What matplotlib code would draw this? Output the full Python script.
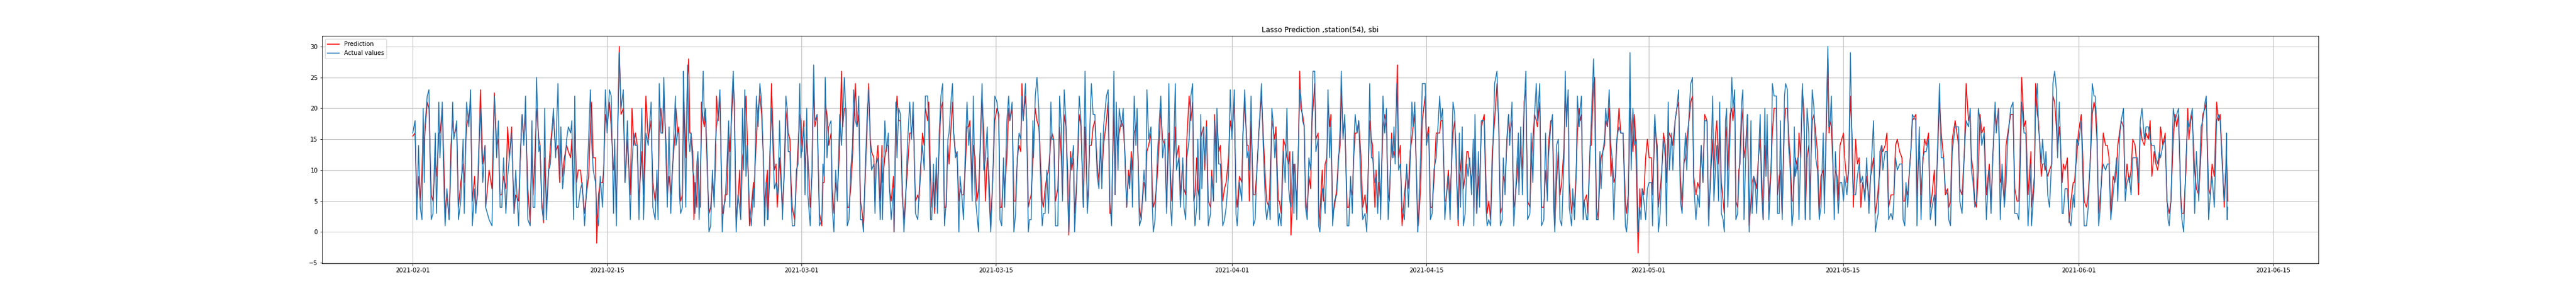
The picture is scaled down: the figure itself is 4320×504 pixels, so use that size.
import numpy as np
import matplotlib
matplotlib.use("Agg")
import matplotlib.pyplot as plt
import matplotlib.dates as mdates

hours = [
    0, 4, 7, 10, 13, 16, 18, 20, 21, 25,
    28, 32, 35, 39, 41, 42, 45, 47, 51, 54,
    56, 59, 63, 66, 69, 71, 73, 76, 79, 83,
    87, 89, 93, 97, 100, 103, 107, 109, 112, 114,
    117, 121, 125, 126, 132, 137, 141, 145, 148, 151,
    154, 157, 161, 164, 167, 171, 175, 178, 183, 186,
    189, 192, 195, 199, 203, 206, 208, 211, 214, 218,
    220, 223, 226, 228, 231, 235, 238, 243, 247, 251,
    254, 256, 259, 262, 266, 269, 273, 275, 278, 280,
    283, 286, 290, 293, 297, 300, 304, 307, 309, 312,
    316, 318, 321, 324, 328, 330, 333, 336, 340, 343,
    347, 349, 352, 354, 357, 360, 364, 367, 371, 376,
    379, 382, 385, 388, 391, 396, 399, 403, 407, 412,
    415, 419, 422, 424, 426, 429, 432, 434, 438, 440,
    443, 446, 451,
    454, 455, 458, 460, 461, 463, 466, 468, 469, 472,
    475, 477, 479, 481, 484, 486, 488, 491, 493, 495,
    497, 499, 502, 504, 506, 509, 512, 515, 518, 521,
    523, 525, 528, 531, 535, 537, 540, 543, 546, 548,
    551, 554, 556, 559, 562, 565, 567, 570, 572, 574,
    576, 578, 582, 585, 589, 590, 594, 597, 600, 603,
    606, 608, 611, 613, 614, 617, 620, 622, 625, 628,
    630, 632, 634, 639, 642, 645, 647, 649, 652, 654,
    656, 660, 663, 666, 669, 671, 673, 676, 678, 681,
    683, 687, 690, 693, 695, 699, 700, 703, 707, 709,
    711, 713, 716, 719, 723, 725, 728, 731, 734, 738,
    741, 743, 746, 749, 751, 754, 757, 760, 762, 765,
    768, 771, 774, 777, 779, 781, 785, 788, 791, 793,
    797, 799, 801, 804, 808, 811, 812, 816, 819, 822,
    824, 827, 831, 832, 835, 837, 840, 843, 846, 849,
    852, 855, 859, 862, 865, 869, 873, 875, 878, 881,
    884, 886, 890, 892, 895, 897,
    900, 902, 905, 907, 910, 913, 916, 919, 922, 925,
    927, 931, 933, 935, 938, 941, 944, 946, 949, 952,
    955, 958, 961, 963, 967, 969, 972, 975, 978, 980,
    984, 987, 990, 993, 996, 999, 1003, 1006, 1010, 1013,
    1015, 1018, 1021, 1023, 1027, 1030, 1032, 1036, 1039, 1042,
    1045, 1048, 1051, 1053, 1055, 1059, 1061, 1064, 1066, 1069,
    1072, 1073, 1076, 1079, 1082, 1084, 1088, 1090, 1093, 1096,
    1099, 1103, 1105, 1108, 1111, 1115, 1118, 1121, 1123, 1126,
    1129, 1132, 1134, 1137, 1139, 1142, 1144, 1147, 1150, 1152,
    1155, 1159, 1162, 1166, 1168, 1170, 1173, 1176, 1179, 1183,
    1186, 1189, 1191, 1194, 1199, 1202, 1205, 1208, 1212, 1214,
    1216, 1219, 1221, 1225, 1228, 1231, 1234, 1237, 1239, 1242,
    1244, 1247, 1250, 1252, 1256, 1259, 1262, 1264, 1267, 1269,
    1272, 1276, 1278, 1280, 1283, 1287, 1291, 1293, 1296, 1300,
    1303, 1307, 1310, 1312, 1318, 1320, 1324, 1327, 1331, 1333,
    1336, 1338, 1342, 1345, 1348,
    1350, 1352, 1355, 1357, 1360, 1362, 1364, 1367, 1369, 1372,
    1375, 1379, 1381, 1384, 1386, 1389, 1390, 1393, 1396, 1400,
    1403, 1406, 1410, 1413, 1416, 1420, 1423, 1425, 1429, 1433,
    1435, 1438, 1442, 1444, 1446, 1449, 1453, 1456, 1459, 1463,
    1467, 1470, 1474, 1476, 1480, 1482, 1485, 1487, 1490, 1492,
    1496, 1498, 1501, 1505, 1508, 1511, 1514, 1516, 1518, 1521,
    1523, 1525, 1528, 1531, 1533, 1535, 1538, 1541, 1543, 1546,
    1549, 1552, 1554, 1556, 1559, 1561, 1565, 1566, 1568, 1572,
    1574, 1577, 1580, 1582, 1585, 1587, 1590, 1593, 1597, 1600,
    1603, 1605, 1608, 1611, 1615, 1618, 1621, 1624, 1627, 1629,
    1632, 1635, 1639, 1642, 1646, 1649, 1651, 1654, 1657, 1659,
    1663, 1665, 1668, 1670, 1673, 1677, 1680, 1683, 1686, 1688,
    1692, 1694, 1696, 1698, 1701, 1702, 1704, 1707, 1710, 1714,
    1718, 1721, 1724, 1727, 1729, 1732, 1737, 1738, 1742, 1745,
    1750, 1752, 1756, 1759, 1762, 1765, 1769, 1775, 1777, 1780,
    1784, 1786, 1790, 1793, 1796,
    1798, 1801, 1803, 1807, 1809, 1811, 1814, 1816, 1819, 1822,
    1824, 1827, 1830, 1833, 1834, 1836, 1839, 1842, 1844, 1847,
    1852, 1855, 1857, 1860, 1863, 1866, 1870, 1874, 1877, 1880,
    1883, 1885, 1888, 1891, 1894, 1896, 1900, 1903, 1905, 1908,
    1911, 1912, 1915, 1918, 1921, 1924, 1927, 1931, 1933, 1936,
    1939, 1942, 1944, 1948, 1951, 1955, 1958, 1961, 1963, 1967,
    1970, 1972, 1974, 1977, 1980, 1983, 1986, 1990, 1992, 1994,
    1997, 1999, 2003, 2005, 2008, 2011, 2013, 2016, 2018, 2020,
    2023, 2025, 2029, 2031, 2035, 2037, 2041, 2043, 2046, 2049,
    2052, 2054, 2057, 2060, 2062, 2065, 2068, 2071, 2073, 2076,
    2079, 2081, 2085, 2088, 2092, 2096, 2098, 2101, 2104, 2106,
    2109, 2112, 2115, 2118, 2121, 2123, 2125, 2128, 2131, 2134,
    2137, 2141, 2143, 2146, 2147, 2151, 2153, 2156, 2159, 2162,
    2165, 2167, 2170, 2172, 2176, 2178, 2182, 2185, 2188, 2191,
    2194, 2197, 2200, 2202, 2206, 2209, 2212, 2214, 2218, 2221,
    2224, 2227, 2230, 2233, 2237, 2240, 2244,
    2247, 2249, 2252, 2254, 2257, 2259, 2262, 2265, 2267, 2269,
    2271, 2273, 2277, 2280, 2282, 2285, 2287, 2290, 2292, 2294,
    2297, 2299, 2301, 2304, 2307, 2310, 2313, 2315, 2318, 2321,
    2323, 2326, 2329, 2331, 2334, 2337, 2339, 2341, 2344, 2348,
    2350, 2353, 2357, 2359, 2362, 2364, 2367, 2371, 2373, 2376,
    2378, 2381, 2384, 2386, 2388, 2390, 2394, 2396, 2399, 2402,
    2405, 2407, 2410, 2413, 2415, 2419, 2422, 2425, 2428, 2431,
    2434, 2438, 2440, 2443, 2446, 2448, 2450, 2452, 2457, 2459,
    2462, 2464, 2467, 2470, 2473, 2475, 2479, 2482, 2485, 2488,
    2490, 2494, 2497, 2500, 2503, 2506, 2510, 2513, 2517, 2520,
    2525, 2528, 2531, 2533, 2536, 2539, 2541, 2545, 2548, 2551,
    2555, 2558, 2560, 2563, 2566, 2570, 2574, 2576, 2579, 2581,
    2584, 2587, 2590, 2592, 2598, 2600, 2602, 2604, 2607, 2610,
    2613, 2616, 2620, 2623, 2626, 2630, 2632, 2635, 2639, 2642,
    2646, 2649, 2653, 2655, 2658, 2661, 2666, 2672, 2674, 2678,
    2682, 2685, 2689, 2692,
    2694, 2697, 2700, 2703, 2706, 2709, 2712, 2716, 2720, 2723,
    2725, 2728, 2731, 2735, 2737, 2741, 2744, 2747, 2751, 2754,
    2757, 2762, 2766, 2769, 2773, 2776, 2778, 2781, 2785, 2788,
    2792, 2797, 2798, 2803, 2805, 2808, 2810, 2815, 2817, 2821,
    2823, 2826, 2829, 2833, 2835, 2838, 2841, 2843, 2846, 2848,
    2851, 2853, 2856, 2860, 2863, 2866, 2870, 2872, 2876, 2879,
    2884, 2887, 2889, 2893, 2896, 2900, 2903, 2906, 2908, 2911,
    2914, 2917, 2919, 2922, 2926, 2929, 2932, 2935, 2939, 2942,
    2945, 2947, 2950, 2953, 2957, 2960, 2963, 2967, 2970, 2973,
    2977, 2981, 2983, 2986, 2989, 2993, 2996, 3000, 3003, 3006,
    3010, 3013, 3016, 3019, 3021, 3025, 3029, 3032, 3034, 3036,
    3039, 3043, 3046, 3049, 3052, 3056, 3058, 3061, 3065, 3068,
    3070, 3074, 3076, 3080, 3083, 3087, 3091, 3094, 3098, 3100,
    3104, 3107, 3110, 3114, 3118, 3121, 3124, 3128, 3131, 3134,
    3135, 3136, 3137,
]

# Actual values (available bikes, sbi)
actual = [
    16, 18, 2, 14, 4, 2, 20, 8, 17, 22,
    23, 2, 3, 16, 3, 7, 21, 12, 21, 7,
    1, 7, 2, 11, 21, 15, 16, 18, 2, 5,
    15, 3, 21, 17, 23, 1, 7, 3, 7, 13,
    20, 8, 14, 4, 2, 1, 22, 12, 18, 4,
    4, 12, 3, 9, 12, 16, 3, 10, 1, 13,
    19, 14, 22, 2, 1, 18, 4, 4, 25, 13,
    14, 4, 2, 20, 2, 10, 11, 20, 12, 24,
    9, 17, 7, 10, 15, 17, 16, 18, 2, 22,
    4, 4, 7, 8, 1, 6, 15, 23, 15, 10,
    8, 3, 1, 9, 4, 10, 23, 16, 23, 22,
    3, 15, 1, 15, 29, 20, 23, 8, 18, 2,
    11, 16, 14, 14, 2, 20, 2, 16, 14, 21,
    4, 2, 10, 2, 24, 16, 16, 25, 11, 4,
    17, 3, 15,
    22, 14, 16, 16, 6, 3, 4, 26, 20, 4,
    27, 15, 13, 16, 10, 9, 3, 11, 13, 2,
    8, 16, 26, 18, 20, 12, 0, 1, 10, 4,
    14, 17, 19, 23, 0, 4, 5, 11, 18, 4,
    20, 26, 19, 0, 6, 4, 2, 20, 10, 23,
    9, 14, 4, 1, 7, 4, 22, 17, 24, 21,
    12, 1, 8, 2, 3, 12, 20, 15, 7, 8,
    6, 8, 18, 2, 10, 22, 20, 13, 13, 6,
    1, 1, 10, 11, 24, 12, 14, 17, 6, 20,
    6, 1, 10, 27, 18, 19, 15, 1, 2, 11,
    9, 25, 12, 17, 18, 4, 0, 10, 5, 19,
    14, 18, 25, 18, 1, 2, 10, 14, 23, 18,
    17, 22, 2, 2, 0, 7, 18, 23, 14, 10,
    11, 3, 11, 12, 2, 12, 2, 18, 13, 16,
    7, 2, 7, 0, 21, 12, 20, 19, 8, 0,
    5, 14, 21, 15, 21, 3, 2, 6, 11, 14,
    10, 22, 22, 17, 2, 2,
    11, 4, 12, 3, 16, 22, 24, 1, 5, 15,
    16, 22, 24, 16, 12, 13, 0, 9, 6, 2,
    13, 21, 14, 17, 5, 22, 6, 3, 0, 12,
    24, 10, 12, 17, 6, 0, 10, 22, 21, 18,
    2, 1, 12, 4, 18, 22, 18, 21, 0, 3,
    12, 16, 15, 22, 18, 24, 18, 0, 2, 2,
    18, 12, 22, 25, 20, 12, 1, 3, 3, 10,
    3, 21, 15, 15, 1, 1, 22, 17, 5, 23,
    18, 6, 0, 12, 11, 14, 0, 6, 15, 22,
    18, 4, 26, 3, 6, 16, 24, 19, 19, 9,
    7, 16, 7, 17, 22, 23, 5, 1, 26, 6,
    21, 10, 20, 17, 20, 12, 4, 9, 7, 12,
    4, 22, 14, 20, 1, 2, 7, 10, 5, 23,
    15, 17, 5, 0, 2, 12, 19, 22, 12, 15,
    3, 24, 4, 1, 24, 10, 12, 4, 12, 4,
    2, 12, 15, 22, 24,
    7, 1, 4, 15, 2, 19, 7, 17, 11, 17,
    1, 3, 9, 5, 18, 8, 20, 11, 11, 1,
    2, 4, 9, 23, 15, 23, 3, 1, 8, 5,
    16, 23, 12, 13, 10, 22, 1, 2, 10, 17,
    24, 14, 4, 2, 5, 2, 20, 18, 12, 15,
    1, 3, 1, 13, 8, 20, 7, 5, 4, 13,
    3, 11, 2, 14, 23, 22, 18, 17, 4, 2,
    12, 10, 18, 26, 26, 13, 15, 1, 0, 7,
    7, 3, 12, 23, 12, 18, 1, 5, 6, 11,
    17, 26, 15, 19, 1, 1, 9, 3, 15, 19,
    16, 18, 7, 2, 3, 0, 7, 24, 12, 12,
    8, 9, 3, 13, 2, 22, 16, 20, 2, 6,
    15, 12, 17, 11, 24, 21, 10, 11, 4, 2,
    11, 4, 11, 21, 17, 21, 0, 2, 12, 24,
    24, 14, 16, 2, 3, 10, 12, 22, 18, 20,
    2, 5, 9, 2, 14,
    21, 19, 12, 2, 16, 4, 17, 1, 3, 11,
    9, 12, 6, 15, 1, 19, 3, 13, 4, 18,
    18, 4, 1, 2, 1, 10, 24, 26, 17, 1,
    2, 12, 6, 15, 19, 14, 21, 1, 4, 10,
    16, 6, 17, 6, 20, 26, 2, 3, 16, 8,
    19, 24, 18, 24, 1, 2, 16, 5, 12, 17,
    19, 4, 0, 14, 15, 2, 1, 12, 26, 17,
    23, 4, 1, 7, 2, 9, 22, 17, 20, 22,
    2, 5, 2, 2, 13, 18, 28, 20, 2, 2,
    13, 7, 13, 15, 20, 17, 23, 14, 12, 2,
    10, 15, 17, 16, 16, 1, 0, 4, 29, 10,
    20, 14, 15, 0, 4, 2, 7, 5, 2, 7,
    8, 8, 1, 17, 19, 11, 0, 3, 10, 15,
    12, 1, 21, 10, 16, 10, 18, 20, 23, 5,
    3, 11, 16, 10, 19, 24, 25, 8, 2, 6,
    4, 14, 8, 18, 18, 1, 12,
    22, 5, 11, 14, 5, 21, 3, 2, 0, 18,
    20, 4, 16, 25, 20, 23, 2, 3, 8, 13,
    21, 23, 2, 12, 19, 0, 18, 3, 9, 7,
    3, 12, 19, 7, 2, 20, 9, 19, 2, 10,
    24, 22, 22, 3, 3, 18, 2, 22, 24, 23,
    14, 10, 1, 3, 17, 9, 12, 2, 13, 24,
    16, 2, 20, 16, 2, 23, 20, 12, 10, 2,
    4, 16, 3, 17, 30, 17, 18, 22, 2, 13,
    7, 3, 8, 8, 5, 9, 6, 10, 29, 12,
    6, 6, 9, 11, 8, 9, 5, 12, 3, 9,
    18, 0, 2, 3, 13, 14, 10, 13, 13, 2,
    3, 2, 5, 12, 10, 11, 11, 2, 1, 8,
    4, 10, 14, 19, 18, 1, 10, 17, 2, 12,
    13, 13, 15, 2, 4, 6, 1, 12, 24, 12,
    12, 7, 6, 2, 1, 13, 17, 17, 5, 3,
    13, 18, 17, 20,
    10, 8, 4, 5, 20, 18, 14, 16, 2, 8,
    10, 3, 12, 21, 16, 20, 2, 11, 4, 8,
    15, 20, 21, 3, 3, 2, 8, 21, 16, 16,
    1, 11, 1, 8, 20, 24, 17, 11, 15, 10,
    13, 6, 4, 12, 24, 26, 23, 12, 21, 15,
    3, 3, 7, 7, 2, 1, 6, 4, 15, 14,
    18, 8, 1, 1, 4, 13, 24, 22, 22, 17,
    1, 4, 9, 11, 10, 11, 11, 2, 6, 9,
    12, 5, 15, 18, 20, 5, 8, 9, 6, 12,
    12, 12, 8, 18, 20, 15, 17, 17, 15, 14,
    14, 12, 11, 13, 12, 14, 15, 6, 2, 1,
    5, 20, 18, 19, 20, 5, 2, 0, 12, 18,
    17, 19, 20, 3, 13, 5, 17, 18, 21, 22,
    2, 6, 9, 4, 18, 19, 18, 10, 5, 11,
    16, 2, 4,
]

# Lasso prediction
prediction = [
    15.5, 16, 5, 9, 5, 10, 16, 14, 16, 21,
    20, 6, 5, 12, 10, 9, 16, 16, 20, 11,
    3, 6, 2, 14, 18, 16, 16, 17, 4, 8,
    11, 8, 17, 19, 21, 5, 9, 4, 6, 11,
    23, 11, 14, 4, 10, 7, 22.5, 14, 15, 6,
    6, 9, 7, 17, 12, 17, 3, 6, 5, 12,
    19, 15, 19, 7, 1.5, 14, 6, 12, 20, 15,
    14, 5, 1.5, 12, 4, 10, 14, 19, 13, 14,
    8, 15, 9, 12, 14, 13, 12, 15, 5, 19,
    8, 10, 10, 7, 3, 6, 9, 17, 21, 12,
    12, -1.8, 6, 8, 8, 10, 19, 17, 21, 17,
    10, 11, 4, 14, 30, 19, 20, 8, 15, 6,
    20, 14, 16, 14, 5, 13, 6, 22, 15, 18,
    8, 5, 8, 5, 16, 20, 16, 22, 14, 6,
    9, 6, 13,
    16, 20, 16, 17, 8, 5, 6, 18, 21, 12,
    25, 28, 16, 16, 13, 2, 8, 4, 12, 5,
    4, 21, 18, 17, 19, 10, 3, 4, 8, 6,
    10, 22, 18, 22, 3, 3, 6, 6, 17, 13,
    18, 24, 21, 2, 5, 10, 3, 12, 13, 18,
    22, 16, 1, 4, 8, 7, 15, 20, 22, 19,
    12, 4, 8, 10, 2, 9, 24, 18, 10, 11,
    4, 7, 12, 4, 9, 18, 20, 16, 15, 8,
    4, 2, 8, 14, 19, 18, 13, 18, 10, 15,
    12, 4, 9, 24, 17, 19, 14, 3, 1, 8,
    8, 21, 19, 14, 16, 7, 3, 8, 6, 14,
    26, 17, 20, 20, 4, 4, 7, 12, 17, 24,
    17, 19, 5, 3, 1, 6, 16, 24, 15, 13,
    12, 5, 11, 14, 5, 14, 8, 12, 14, 14,
    7, 5, 9, 0, 18, 22, 18, 18, 6, 2,
    6, 10, 16, 16, 19, 5, 6, 5, 10, 16,
    14, 20, 18, 21, 9, 4,
    8, 3, 10, 5, 14, 20, 21, 4, 4, 14,
    11, 18, 21, 16, 13, 12, 5, 7, 6, 6,
    10, 17, 17, 18, 8, 14, 12, 5, 7, 11,
    22, 16, 5, 12, 9, 1, 10, 18, 20, 19,
    4, 4, 10, 7, 12, 20, 18, 20, 5, 5,
    12, 14, 13, 24, 18, 22, 18, 4, 5, 6,
    12, 14, 20, 18, 17, 14, 5, 4, 7, 9,
    10, 15, 16, 15, 5, 7, 17, 12, 6, 19,
    17, 10, -0.5, 13, 10, 12, 3, 7, 13, 19,
    17, 4, 17, 5, 7, 14, 14, 17, 18, 11,
    8, 14, 8, 14, 18, 21, 3, 3, 20, 6,
    17, 14, 16, 18, 17, 13, 4, 10, 8, 13,
    10, 16, 17, 18, 4, 2, 6, 8, 7, 13,
    14, 16, 8, 4, 5, 9, 16, 20, 15, 14,
    4, 16, 9, 5, 17, 12, 14, 6, 11, 7,
    6, 15, 22, 18, 21,
    5, 6, 12, 7, 5, 15, 16, 17, 10, 18,
    5, 4, 10, 5, 19, 12, 19, 13, 14, 5,
    7, 8, 12, 18, 16, 21, 6, 4, 9, 8,
    16, 21, 14, 14, 5, 18, 6, 6, 10, 17,
    22, 16, 8, 5, 4, 9, 18, 17, 15, 17,
    5, 5, 3, 15, 14, 12, 11, 13, -0.5, 6,
    11, 9, 5, 14, 26, 20, 19, 17, 6, 3,
    9, 7, 17, 20, 24, 15, 16, 1, 3, 10,
    5, 11, 12, 21, 17, 19, 3, 4, 7, 12,
    14, 23, 16, 18, 4, 4, 7, 6, 13, 16,
    16, 18, 12, 4, 6, 3, 8, 18, 15, 14,
    4, 10, 4, 8, 5, 17, 19, 17, 6, 5,
    16, 12, 13, 12, 24, 27, 12, 14, 1, 6,
    10, 7, 13, 15, 17, 19, 2, 1, 7, 18,
    22, 15, 17, 4, 4, 8, 16, 16, 18, 18,
    5, 5, 10, 5, 12,
    16, 18, 14, 1, 9, 10, 14, 7, 9, 13,
    13, 11, 8, 12, 4, 15, 3, 9, 6, 17,
    19, 8, 3, 5, 2, 13, 18, 24, 18, 3,
    4, 9, 8, 14, 19, 16, 18, 4, 5, 8,
    12, 8, 14, 10, 21, 23, 5, 4, 10, 15,
    19, 18, 17, 21, 4, 4, 10, 6, 14, 18,
    18, 9, 1, 8, 13, 6, 8, 14, 22, 19,
    22, 8, 3, 5, 4, 10, 16, 20, 18, 19,
    4, 5, 6, 3, 14, 14, 24, 25, 4, 2,
    9, 12, 13, 14, 18, 17, 20, 9, 12, 8,
    9, 14, 20, 16, 16, 5, 3, 6, 20, 18,
    13, 19, 10, -3.4, 7, 4, 7, 6, 12, 15,
    12, 12, 6, 14, 17, 14, 4, 7, 10, 16,
    14, 8, 15, 16, 15, 14, 18, 20, 21, 9,
    4, 11, 12, 15, 18, 21, 22, 9, 6, 8,
    7, 14, 8, 19, 18, 2, 10,
    15, 10, 16, 18, 11, 17, 8, 5, 3, 15,
    17, 10, 19, 20, 18, 21, 5, 4, 10, 11,
    18, 20, 12, 14, 19, 1, 5, 8, 9, 8,
    7, 12, 15, 11, 2, 14, 10, 15, 5, 11,
    16, 20, 20, 6, 9, 10, 3, 18, 20, 20,
    16, 12, 5, 5, 9, 12, 10, 16, 12, 23,
    19, 2, 12, 14, 6, 18, 19, 16, 13, 3,
    9, 10, 6, 15, 28, 16, 18, 17, 5, 10,
    9, 5, 14, 15, 16, 12, 8, 10, 22, 15,
    4, 15, 11, 12, 4, 8, 6, 9, 5, 9,
    12, 3, 5, 7, 10, 14, 13, 14, 16, 4,
    6, 6, 6, 14, 15, 13, 12, 5, 5, 7,
    6, 10, 14, 18, 19, 5, 11, 13, 6, 11,
    15, 14, 16, 4, 6, 10, 3, 11, 21, 16,
    12, 6, 7, 4, 5, 15, 18, 14, 7, 6,
    13, 24, 18, 19,
    12, 10, 5, 4, 10, 19, 16, 17, 6, 9,
    11, 4, 12, 20, 17, 20, 8, 9, 5, 14,
    16, 19, 19, 7, 5, 5, 12, 25, 17, 18,
    6, 13, 4, 9, 24, 19, 18, 9, 11, 11,
    10, 9, 10, 11, 22, 21, 17, 13, 17, 14,
    8, 11, 10, 12, 1.5, 5, 8, 8, 12, 16,
    19, 11, 5, 4, 6, 12, 19, 21, 20, 15,
    3, 6, 8, 16, 14, 14, 12, 3, 9, 8,
    10, 14, 16, 18, 17, 7, 11, 8, 10, 15,
    14, 10, 6, 17, 15, 14, 16, 15, 18, 9,
    13, 11, 10, 12, 17, 14, 16, 5, 4, 3,
    5, 15, 19, 17, 19, 6, 3, 3, 10, 20,
    15, 19, 18, 10, 7, 6, 13, 19, 20, 21,
    7, 6, 11, 9, 21, 18, 19, 11, 4, 10,
    12, 10, 5,
]

title = "Lasso Prediction ,station(54), sbi"
start = np.datetime64("2021-02-01T00:00")

if not (len(hours) == len(actual) == len(prediction)):
    raise SystemExit(f"length mismatch: {len(hours)} {len(actual)} {len(prediction)}")

t = start + np.array(hours, dtype="timedelta64[h]")

fig = plt.figure(figsize=(60, 7), dpi=72)
ax = fig.add_subplot(111)
fig.subplots_adjust(left=0.125, right=0.9, top=0.88, bottom=0.125)

ax.plot(t, prediction, color="red", linewidth=1.5, label="Prediction")
ax.plot(t, actual, color="#1f77b4", linewidth=1.5, label="Actual values")

ax.xaxis.set_major_locator(mdates.DayLocator(bymonthday=[1, 15]))
ax.xaxis.set_major_formatter(mdates.DateFormatter("%Y-%m-%d"))
ax.grid(True)
ax.set_title(title)
ax.legend(loc="upper left")

fig.savefig("out.png", dpi=72)
